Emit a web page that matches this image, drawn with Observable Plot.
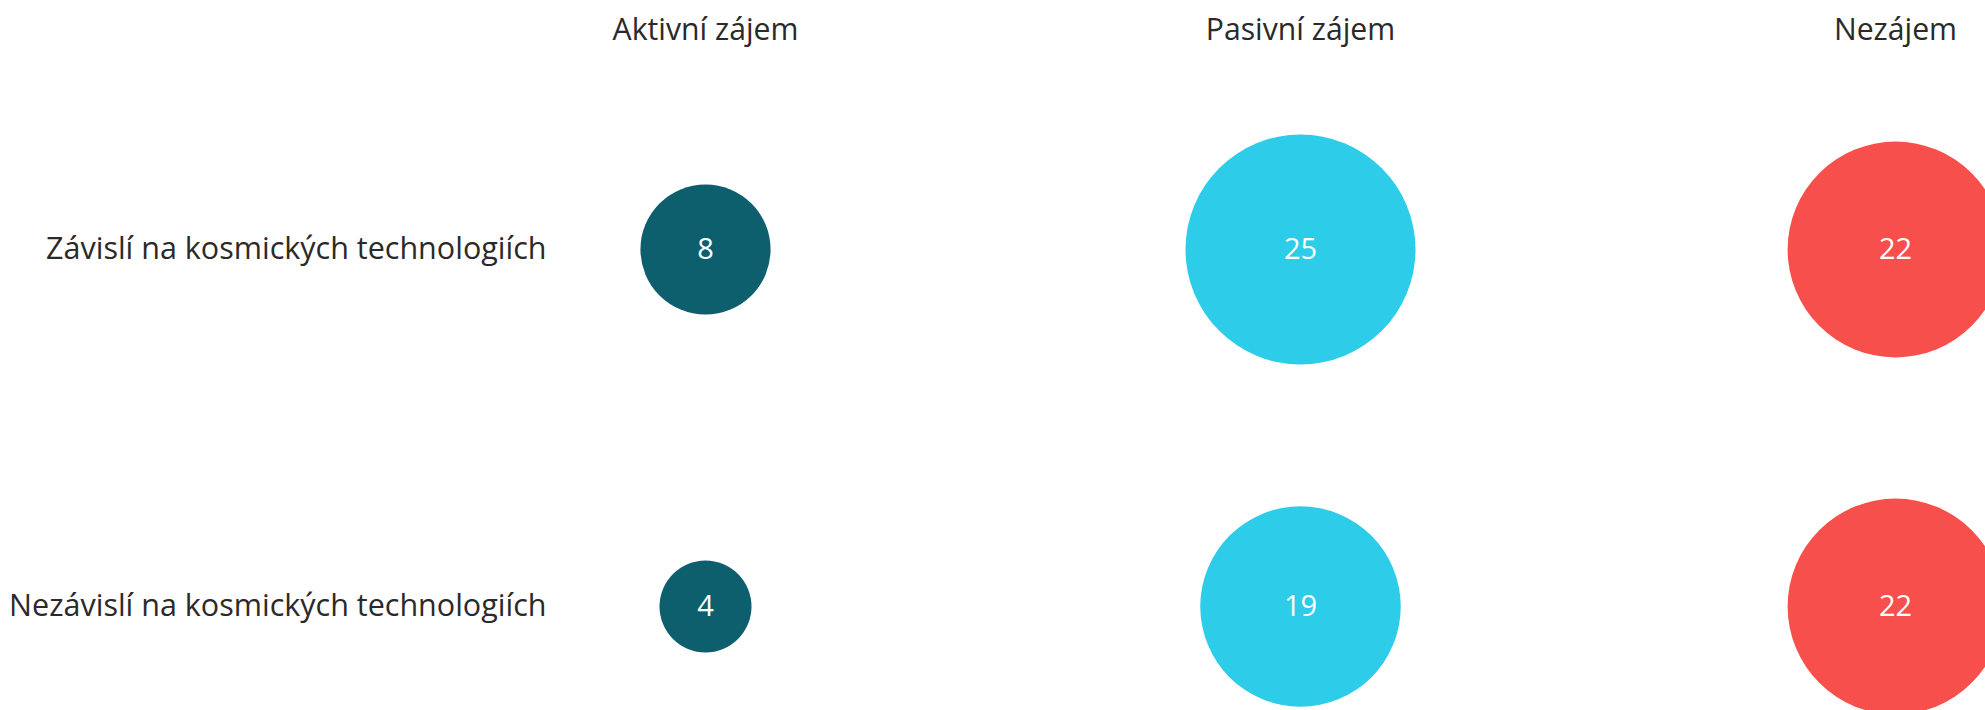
<!DOCTYPE html>
<html>
<head>
<meta charset="utf-8">
<script src="https://cdn.jsdelivr.net/npm/d3@7"></script>
<script src="https://cdn.jsdelivr.net/npm/@observablehq/plot@0.6"></script>
<style>
  html, body { margin: 0; padding: 0; background: #ffffff; }
  #chart { width: 1985px; height: 710px; overflow: hidden; }
</style>
</head>
<body>
<div id="chart"></div>
<script>
// Column categories (interest level)
const categories = ["Aktivní zájem", "Pasivní zájem", "Nezájem"];
// Row groups
const groups = ["Závislí na kosmických technologiích", "Nezávislí na kosmických technologiích"];
// Series values per row
const valuesDependent = [8, 25, 22];
const valuesIndependent = [4, 19, 22];
// Colours per category
const colors = ["#0E5F6E", "#2DCDEA", "#F74F4B"];

const seriesByGroup = [valuesDependent, valuesIndependent];
const data = [];
groups.forEach((g, gi) => {
  categories.forEach((c, ci) => {
    data.push({ group: g, category: c, value: seriesByGroup[gi][ci] });
  });
});

const chart = Plot.plot({
  width: 1985,
  height: 710,
  marginTop: 44,
  marginLeft: 549,
  marginRight: 0,
  marginBottom: 0,
  style: { fontFamily: "'Open Sans', sans-serif", fontSize: "30px", color: "#2b2a29", background: "#ffffff" },
  x: { type: "point", domain: categories, range: [705, 1895], padding: 0, label: null },
  y: { type: "point", domain: groups, range: [249, 606], padding: 0, label: null },
  r: { type: "sqrt", domain: [0, 25], range: [0, 115] },
  color: { domain: categories, range: colors },
  marks: [
    Plot.axisX({ anchor: "top", tickSize: 0, tickPadding: 5, label: null, fontSize: 30.2 }),
    Plot.axisY({ anchor: "left", tickSize: 0, tickPadding: 3, label: null, fontSize: 30.5 }),
    Plot.dot(data, { x: "category", y: "group", r: "value", fill: "category", stroke: null }),
    Plot.text(data, { x: "category", y: "group", text: d => String(d.value), fill: "white", fontSize: 29 })
  ]
});
document.getElementById("chart").appendChild(chart);
</script>
</body>
</html>
